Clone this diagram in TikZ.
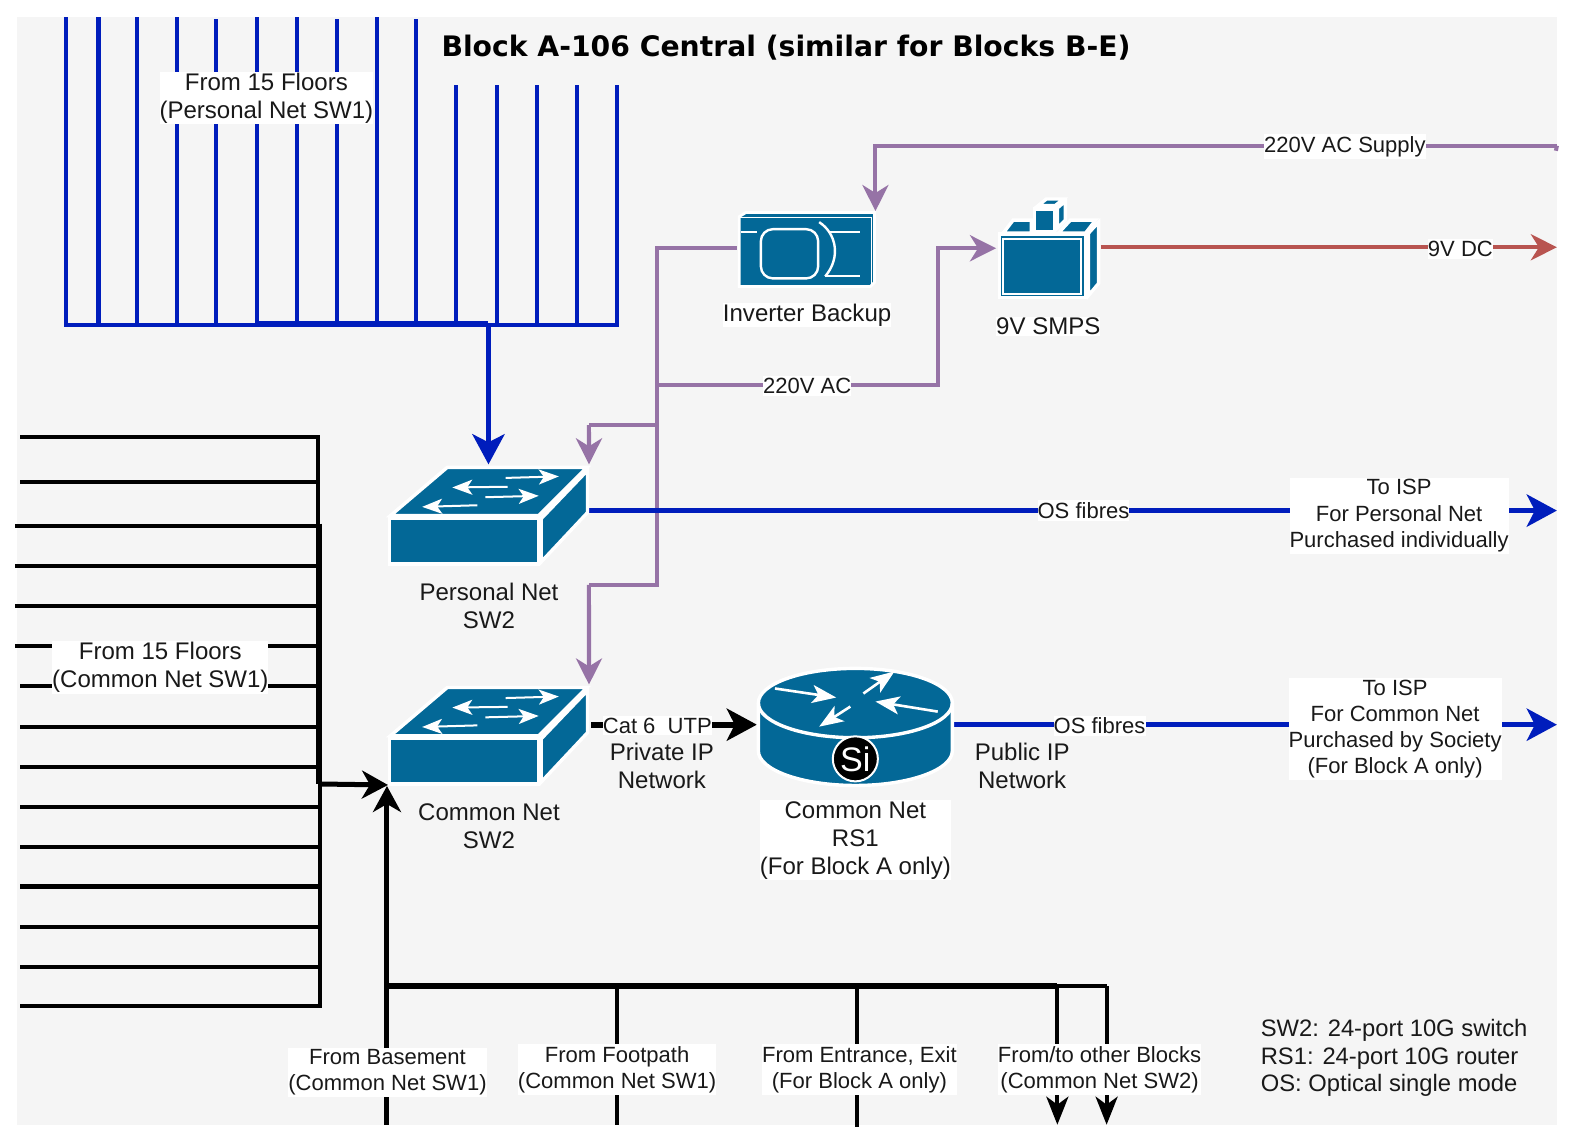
\documentclass[tikz,border=0pt]{standalone}
\usepackage{fontspec}
\setmainfont{Liberation Sans}
\newfontfamily\titlefont{DejaVu Sans}
\usetikzlibrary{arrows.meta}
\definecolor{icblue}{HTML}{036897}
\definecolor{netblue}{HTML}{001DBC}
\definecolor{pwr}{HTML}{9673A6}
\definecolor{dcred}{HTML}{B85450}
\definecolor{bgg}{HTML}{F5F5F5}
\tikzset{
  iconbox/.style={inner sep=0pt,outer sep=0pt,minimum width=#1},
  face/.style={fill=icblue,draw=white,line width=1.7pt,line join=miter},
  glyph/.style={draw=white,line width=1.2pt,fill=none},
  wtip/.style={white,line width=1pt,-{Stealth[length=10pt,width=7.5pt,inset=2.5pt]}},
  rtip/.style={white,line width=1.3pt,-{Stealth[length=12pt,width=9pt,inset=3pt]}},
  lab/.style={font=\fontsize{12}{14}\selectfont,align=center,inner xsep=0pt,inner ysep=0.5pt,text=black!90},
  wlab/.style={lab,fill=white},
  sml/.style={font=\fontsize{11}{13}\selectfont,align=center,inner xsep=0pt,inner ysep=1pt,fill=white,text=black!90},
  bl/.style={netblue,line width=2pt},
  blthick/.style={netblue,line width=3pt},
  blarrow/.style={netblue,line width=2.8pt,-{Stealth[length=15pt,width=16pt,inset=4pt]}},
  pu/.style={pwr,line width=2pt},
  puarrow/.style={pwr,line width=2pt,-{Stealth[length=13pt,width=13pt,inset=4pt]}},
  rd/.style={dcred,line width=2pt,-{Stealth[length=13pt,width=13pt,inset=4pt]}},
  bk/.style={black,line width=2pt},
  bkthick/.style={black,line width=3pt},
  bkarrow/.style={black,line width=3pt,-{Stealth[length=15pt,width=16pt,inset=4pt]}},
  bkjoint/.style={black,line width=2.5pt,-{Stealth[length=13pt,width=14pt,inset=4pt]}},
  bkthin/.style={black,line width=2pt,-{Stealth[length=14pt,width=11pt,inset=4pt]}},
}
\newcommand{\swicon}[2]{%
\begin{scope}[shift={(#1,#2)}]
  \filldraw[face] (388.5,513) -- (445,465) -- (584,465) -- (536,513) -- cycle;
  \filldraw[face] (387.5,516) rectangle (536,561);
  \filldraw[face] (538.5,516) -- (584.5,468) -- (584.5,510) -- (538.5,559) -- cycle;
  \draw[wtip] (503,475.5) -- (556,474);
  \draw[wtip] (505,484.3) -- (450,485);
  \draw[wtip] (483,494.7) -- (536,493.3);
  \draw[wtip] (475,502.7) -- (420,504.3);
\end{scope}}
\begin{document}
\begin{tikzpicture}[x=0.5bp,y=-0.5bp]
\useasboundingbox (0,0) rectangle (1568,1142);
\fill[white] (0,0) rectangle (1576,1148);
\fill[bgg] (17,17) rectangle (1549,1119);
% icon anchor nodes
\node[iconbox=100bp,minimum height=50bp] (pn) at (486,512) {};
\node[iconbox=100bp,minimum height=50bp] (cn) at (486,731) {};
\node[iconbox=69bp,minimum height=39bp] (inv) at (802,249) {};
\node[iconbox=52bp,minimum height=51bp] (smps) at (1043,247) {};
\node[iconbox=98bp,minimum height=59bp] (rt) at (851,722) {};
% free ends
\coordinate (acin) at (1549,145);
\coordinate (acstub) at (1548,150);
\coordinate (ackn) at (871,145);
\coordinate (invtip) at (871,210);
\coordinate (tr) at (654,247);
\coordinate (tr1) at (654,423);
\coordinate (tr1b) at (586,423);
\coordinate (tr2) at (654,582);
\coordinate (tr2b) at (586,582);
\coordinate (tr3) at (654,383);
\coordinate (tr3b) at (933,383);
\coordinate (tr3c) at (933,247);
\coordinate (dcout) at (1549,246);
\coordinate (isp1) at (1549,508);
\coordinate (isp2) at (1549,721);
\coordinate (bluejoin) at (486,322);
\coordinate (bkjoin) at (317,780);
\coordinate (bkbase) at (385,1119);
\coordinate (bus) at (385,981);
\coordinate (busa) at (1052,981);
\coordinate (busb) at (1101,981);
\coordinate (out1) at (1052,1119);
\coordinate (out2) at (1101,1119);
\coordinate (foot) at (614,981);
\coordinate (footb) at (614,1119);
\coordinate (ent) at (853,981);
\coordinate (entb) at (853,1121);
% blue comb
\foreach \x/\t in {66/17,98/17,136/17,176/17,215/19,256/17,295/17,335/19,375/17,414/19,454/85,494/85,534/85,574/85,614/85}
  \draw[bl] (\x,\t) -- (\x,323);
\draw[bl] (64,323) -- (616,323);
\draw[blthick] (256,322) -- (bluejoin);
\draw[blarrow] (bluejoin) -- (pn.north);
% black comb
\foreach \y/\s in {435/20,480/20,523/15,563/15,603/15,643/15,683/20,723/20,763/20,803/20,843/20,882/20,922/20,962/20,1001/20}
  \draw[bk] (\s,\y) -- (317,\y);
\draw[bk] (316,433) -- (316,523);
\draw[bkthick] (317,521) -- (bkjoin);
\draw[bk] (318,780) -- (318,1003);
\draw[bkjoint] (bkjoin) -- (cn.south west);
\draw[bkjoint] (bkbase) -- (385,782);
\draw[bkthick] (bus) -- (busa);
\draw[bk] (busa) -- (busb);
\draw[bkthin] (busa) -- (out1);
\draw[bkthin] (busb) -- (out2);
\draw[bk] (foot) -- (footb);
\draw[bk] (ent) -- (entb);
% power
\draw[pu,line cap=butt] (acstub) -- (acin);
\draw[puarrow] (acin) -- (ackn) -- (invtip);
\draw[pu] (inv.west |- tr) -- (tr) -- (tr2) -- (tr2b);
\draw[puarrow] (tr2b) -- (cn.north east);
\draw[pu] (tr1) -- (tr1b);
\draw[puarrow] (tr1b) -- (pn.north east);
\draw[puarrow] (tr3) -- (tr3b) -- (tr3c) -- (smps.west |- tr3c);
\draw[rd] (smps.east |- dcout) -- (dcout);
% network links
\draw[blarrow] (pn.east |- isp1) -- (isp1);
\draw[blarrow] (rt.east |- isp2) -- (isp2);
\draw[bkarrow] (cn.east |- isp2) ++(2,0) -- (rt.west |- isp2);
% icons
\swicon{0}{0}
\swicon{0}{219}
% inverter
\filldraw[face,line width=1.4pt] (735.5,215.5) -- (742,211.5) -- (870,211.5) -- (870,281) -- (866,285) -- (735.5,285) -- cycle;
\draw[white,line width=0.7pt] (735.5,216.5) -- (867,216.5) -- (867,285);
\draw[glyph] (737,231) -- (753,231);
\draw[glyph,rounded corners=6pt] (757,228) rectangle (814,277);
\draw[glyph] (815,221) .. controls (832,232) and (837,256) .. (821,275);
\draw[glyph] (826,231) -- (856,231);
\draw[glyph] (821,274.5) -- (856,274.5);
% SMPS
\filldraw[face] (998,232) -- (1008,219) -- (1026,219) -- (1026,232) -- cycle;
\filldraw[face] (1053,232) -- (1065,219) -- (1090,219) -- (1080,232) -- cycle;
\filldraw[face] (1083,232) -- (1093,221) -- (1093,282) -- (1083,294) -- cycle;
\filldraw[face] (1029,208) rectangle (1049,231);
\filldraw[face] (1033,204.5) -- (1041,198) -- (1058,198) -- (1050,204.5) -- cycle;
\filldraw[face] (1052,207) -- (1060,200) -- (1060,219) -- (1052,227) -- cycle;
\filldraw[face] (994.5,233) rectangle (1080,296);
\draw[white,line width=1.2pt] (998,237.5) rectangle (1075.5,292.5);
% router
\filldraw[fill=icblue,draw=white,line width=1.7pt]
  (754.5,699.5) -- (754.5,747) arc[start angle=180,end angle=0,x radius=96.5,y radius=34.5] -- (947.5,699.5)
  arc[start angle=0,end angle=-180,x radius=96.5,y radius=34.5] -- cycle;
\draw[white,line width=1.7pt] (754.5,699.5) arc[start angle=180,end angle=0,x radius=96.5,y radius=34.5];
\draw[rtip] (771,685) -- (832,694);
\draw[rtip] (859,690) -- (890,668);
\draw[rtip] (933,708) -- (871,698);
\draw[rtip] (846,703) -- (815,723);
\node[circle,draw=white,fill=black,line width=1pt,minimum size=22.5pt,inner sep=0pt,text=white,font=\fontsize{17}{17}\selectfont] (si) at (851,755) {Si};
% labels
\node[font=\titlefont\bfseries\fontsize{14.1}{18}\selectfont,inner sep=0pt] (title) at (782,47) {Block A-106 Central (similar for Blocks B-E)};
\node[wlab] (f1) at (265,97.5) {From 15 Floors\\(Personal Net SW1)};
\node[wlab] (f2) at (159.5,664) {From 15 Floors\\(Common Net SW1)};
\node[sml] (l1) at (1338,146) {220V AC Supply};
\node[sml] (l2) at (1453,248) {9V DC};
\node[sml] (l3) at (803,384) {220V AC};
\node[wlab] (l4) at (803,313.5) {Inverter Backup};
\node[wlab] (l5) at (1043,325) {9V SMPS};
\node[lab] (l6) at (486.5,603) {Personal Net\\SW2};
\node[lab] (l7) at (486.5,822) {Common Net\\SW2};
\node[sml] (l8) at (1078,508) {OS fibres};
\node[sml] (l9) at (1094,722) {OS fibres};
\node[sml] (l10) at (654,722) {Cat 6\ \ UTP};
\node[lab] (l11) at (658.5,762) {Private IP\\Network};
\node[lab] (l12) at (1017,762) {Public IP\\Network};
\node[wlab] (l13) at (851,836) {Common Net\\RS1\\(For Block A only)};
\node[sml] (l14) at (1392,513) {To ISP\\For Personal Net\\Purchased individually};
\node[sml] (l15) at (1388,725.5) {To ISP\\For Common Net\\Purchased by Society\\(For Block A only)};
\node[sml] (l16) at (385.5,1067) {From Basement\\(Common Net SW1)};
\node[sml] (l17) at (614,1064) {From Footpath\\(Common Net SW1)};
\node[sml] (l18) at (855,1064) {From Entrance, Exit\\(For Block A only)};
\node[sml] (l19) at (1094,1064) {From/to other Blocks\\(Common Net SW2)};
\node[lab,align=left,anchor=west,font=\fontsize{11.88}{13.8}\selectfont] (legend) at (1254,1052.5) {SW2: 24-port 10G switch\\RS1: 24-port 10G router\\OS: Optical single mode};
\end{tikzpicture}
\end{document}
